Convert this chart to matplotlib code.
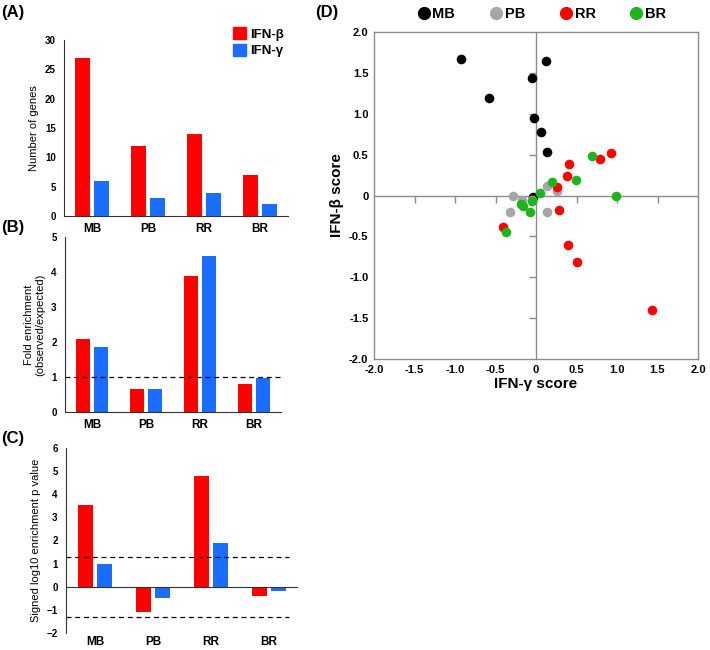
import numpy as np
import matplotlib
matplotlib.use("Agg")
import matplotlib.pyplot as plt
from matplotlib.patches import Patch
from matplotlib.lines import Line2D
from matplotlib.markers import TICKDOWN, TICKLEFT

# ---- data ----
groups = ["MB", "PB", "RR", "BR"]
n_genes_beta = [27, 12, 14, 7]
n_genes_gamma = [6, 3, 4, 2]
fold_beta = [2.08, 0.65, 3.88, 0.80]
fold_gamma = [1.85, 0.65, 4.45, 0.97]
logp_beta = [3.54, -1.11, 4.77, -0.39]
logp_gamma = [0.97, -0.49, 1.91, -0.20]
sig_line = 1.3

# scatter (IFN-gamma score, IFN-beta score)
mb_x = [-0.92, 0.12, -0.05, -0.58, -0.02, 0.06, 0.13, -0.04]
mb_y = [1.67, 1.64, 1.44, 1.19, 0.95, 0.78, 0.53, -0.02]
pb_x = [-0.29, -0.17, -0.32, 0.14, 0.13, 0.26, -0.05]
pb_y = [0.00, -0.06, -0.20, -0.20, 0.12, 0.05, -0.06]
rr_x = [0.93, 0.79, 0.41, 0.38, 0.26, 0.28, -0.41, 0.40, 0.50, 1.43]
rr_y = [0.52, 0.45, 0.39, 0.24, 0.11, -0.18, -0.38, -0.61, -0.81, -1.40]
br_x = [0.69, 0.49, 0.20, 0.05, 0.99, -0.05, -0.19, -0.16, -0.07, -0.37]
br_y = [0.48, 0.19, 0.16, 0.03, 0.00, -0.07, -0.10, -0.13, -0.20, -0.45]

RED = "#ff0000"
BLUE = "#1a6dff"
GRAY = "#a6a6a6"
GREEN = "#1db51d"

plt.rcParams["font.family"] = ["Liberation Sans", "DejaVu Sans"]

W, H = 710, 650
fig = plt.figure(figsize=(W / 100, H / 100), dpi=100)


def px_axes(left, top, right, bottom):
    return fig.add_axes([left / W, 1 - bottom / H, (right - left) / W, (bottom - top) / H])


def bar_panel(ax, beta, gamma, ylim, yticks, ylabel, xpad=5):
    x = np.arange(len(groups))
    ax.bar(x - 0.17, beta, width=0.26, color=RED, edgecolor="none")
    ax.bar(x + 0.17, gamma, width=0.26, color=BLUE, edgecolor="none")
    ax.set_xlim(-0.5, 3.5)
    ax.set_ylim(*ylim)
    ax.set_yticks(yticks)
    ax.set_xticks(x)
    ax.set_xticklabels(groups, fontsize=8.5, fontweight="bold")
    ax.tick_params(axis="x", length=0, pad=xpad)
    ax.tick_params(axis="y", length=0, pad=6, labelsize=7)
    for lab in ax.get_yticklabels():
        lab.set_fontweight("bold")
    for s in ["top", "right"]:
        ax.spines[s].set_visible(False)
    for s in ["left", "bottom"]:
        ax.spines[s].set_color("#333333")
        ax.spines[s].set_linewidth(0.8)
    ax.set_ylabel(ylabel, fontsize=8)


# (A)
axA = px_axes(64, 40, 288, 216)
bar_panel(axA, n_genes_beta, n_genes_gamma, (0, 30), range(0, 31, 5), "Number of genes")
axA.legend(handles=[Patch(color=RED, label="IFN-β"), Patch(color=BLUE, label="IFN-γ")],
           loc="upper left", bbox_to_anchor=(228 / W, 1 - 22 / H), bbox_transform=fig.transFigure,
           frameon=False, prop={"weight": "bold", "size": 9.5}, handlelength=1.0, handleheight=1.0,
           handletextpad=0.3, labelspacing=0.25, borderaxespad=0)

# (B)
axB = px_axes(65, 237, 281, 412)
bar_panel(axB, fold_beta, fold_gamma, (0, 5), range(0, 6), "Fold enrichment\n(observed/expected)")
axB.axhline(1, color="black", ls=(0, (4, 3)), lw=0.9)

# (C)
axC = px_axes(66, 448, 298, 633)
bar_panel(axC, logp_beta, logp_gamma, (-2, 6), range(-2, 7), "Signed log10 enrichment p value", xpad=2)
axC.spines["bottom"].set_visible(False)
axC.axhline(0, color="#333333", lw=0.8)
axC.axhline(sig_line, xmax=0.96, color="black", ls=(0, (4, 3)), lw=0.9)
axC.axhline(-sig_line, xmax=0.96, color="black", ls=(0, (4, 3)), lw=0.9)

# panel letters
for lab, (xp, yp) in {"(A)": (1, 12), "(B)": (1, 228), "(C)": (1, 438), "(D)": (315, 12)}.items():
    fig.text(xp / W, 1 - yp / H, lab, fontsize=12, fontweight="bold", va="center", ha="left")

# (D)
axD = px_axes(374, 32, 698, 359)
edge = "#8c8c8c"
axD.axhline(0, color=edge, lw=1, zorder=1)
axD.axvline(0, color=edge, lw=1, zorder=1)
tks = np.arange(-2, 2.01, 0.5)
axD.plot(tks[1:-1], np.zeros(len(tks) - 2), ls="none", marker=TICKDOWN, ms=5, mec=edge, mew=1, zorder=1)
axD.plot(np.zeros(len(tks) - 2), tks[1:-1], ls="none", marker=TICKLEFT, ms=5, mec=edge, mew=1, zorder=1)
ms = 48
axD.scatter(mb_x, mb_y, s=ms, color="black", zorder=3, linewidths=0)
axD.scatter(pb_x, pb_y, s=ms, color=GRAY, zorder=3, linewidths=0)
axD.scatter(rr_x, rr_y, s=ms, color=RED, zorder=3, linewidths=0)
axD.scatter(br_x, br_y, s=ms, color=GREEN, zorder=3, linewidths=0)
axD.set_xlim(-2, 2)
axD.set_ylim(-2, 2)
tick_labels = ["-2.0", "-1.5", "-1.0", "-0.5", "0", "0.5", "1.0", "1.5", "2.0"]
axD.set_xticks(tks)
axD.set_xticklabels(tick_labels)
axD.set_yticks(tks)
axD.set_yticklabels(tick_labels)
axD.tick_params(length=0, pad=4, labelsize=8)
for lab in axD.get_xticklabels() + axD.get_yticklabels():
    lab.set_fontweight("bold")
for s in axD.spines.values():
    s.set_color(edge)
    s.set_linewidth(1)
axD.set_xlabel("IFN-γ score", fontsize=11, fontweight="bold", labelpad=2)
axD.set_ylabel("IFN-β score", fontsize=11, fontweight="bold", labelpad=4)

handles = [Line2D([], [], ls="none", marker="o", ms=8.5, color=c, label=l)
           for c, l in zip(["black", GRAY, RED, GREEN], groups)]
fig.legend(handles=handles, loc="center", bbox_to_anchor=(542 / W, 1 - 14 / H), ncol=4,
           frameon=False, prop={"weight": "bold", "size": 10.5}, handlelength=0.8,
           handletextpad=0.2, columnspacing=2.4, borderaxespad=0)

fig.savefig("out.png", dpi=100)
